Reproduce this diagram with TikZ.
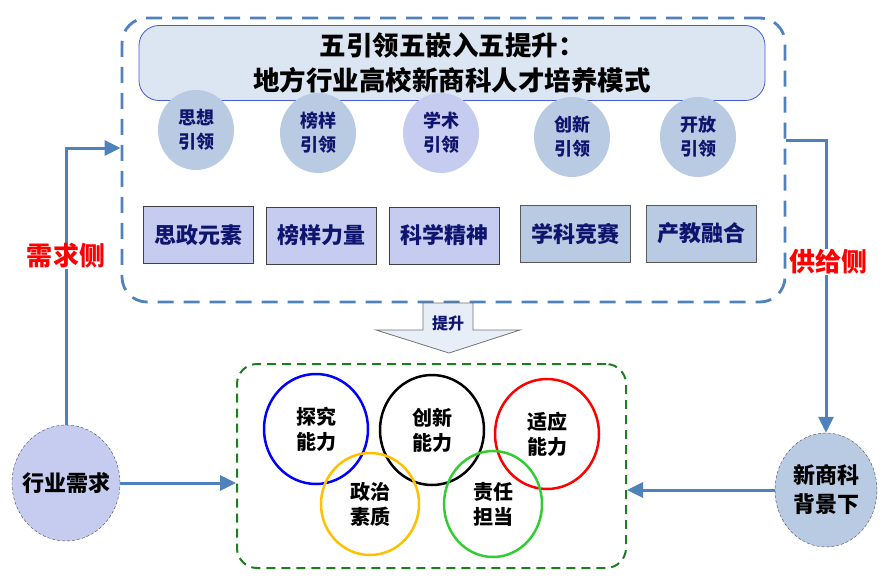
\documentclass[tikz,border=0pt]{standalone}
\usepackage{fontspec}
\setmainfont{Noto Sans CJK SC}
\usetikzlibrary{shapes.geometric,arrows.meta,positioning}
\definecolor{lineblue}{RGB}{79,129,189}
\definecolor{titlefill}{RGB}{220,230,242}
\definecolor{titleline}{RGB}{70,90,220}
\definecolor{greyblue}{RGB}{185,202,227}
\definecolor{lavender}{RGB}{197,204,240}
\definecolor{navy}{RGB}{15,20,110}
\definecolor{liftfill}{RGB}{232,238,247}
\definecolor{framegreen}{RGB}{30,125,30}
\definecolor{ringyellow}{RGB}{255,192,0}
\definecolor{ringgreen}{RGB}{50,205,50}
\begin{document}
\begin{tikzpicture}
  [x=1pt,y=-1pt,
  every node/.style={font=\bfseries},
  lead/.style={ellipse,inner sep=0pt,minimum width=76pt,minimum height=80pt,fill=greyblue,text=navy,align=center,font=\bfseries\fontsize{18}{24}\selectfont},
  elem/.style={minimum width=110pt,minimum height=57pt,draw=black!75,fill=lavender,text=navy,font=\bfseries\fontsize{22}{26}\selectfont},
  ring/.style={ellipse,inner sep=0pt,minimum width=104pt,minimum height=110pt,line width=2.5pt,align=center,font=\bfseries\fontsize{20}{25}\selectfont},
  side/.style={ellipse,minimum width=108pt,minimum height=116pt,draw=black!70,dash pattern=on 3pt off 2pt,align=center},
  sidetext/.style={align=center,font=\bfseries\fontsize{22}{29}\selectfont},
  flow/.style={draw=lineblue,line width=3pt,-{Triangle[length=16pt,width=15pt]}},
  tag/.style={text=red,fill=white,inner sep=1pt,font=\bfseries\fontsize{26}{30}\selectfont}]
  \useasboundingbox (0,0) rectangle (896,583);

  % upper frame with title
  \node[draw=lineblue,line width=2.8pt,dash pattern=on 16pt off 10pt,rounded corners=25pt,
    minimum width=663pt,minimum height=284pt] (frame) at (453.5,160) {};
  \node[rounded corners=20pt,minimum width=626pt,minimum height=75pt,fill=titlefill,
    draw=titleline,line width=0.8pt,align=center,font=\bfseries\fontsize{26.5}{35}\selectfont]
    (title) at (452,63) {五引领五嵌入五提升：\\地方行业高校新商科人才培养模式};

  \node[lead] (lead1) at (196,130) {思想\\引领};
  \node[lead] (lead2) at (318,133) {榜样\\引领};
  \node[lead,fill=lavender] (lead3) at (441,133) {学术\\引领};
  \node[lead] (lead4) at (572,137) {创新\\引领};
  \node[lead] (lead5) at (698,137) {开放\\引领};

  \node[elem] (elem1) at (198,235) {思政元素};
  \node[elem] (elem2) at (321.5,235.5) {榜样力量};
  \node[elem] (elem3) at (444,235.5) {科学精神};
  \node[elem,fill=greyblue,draw=black!65] (elem4) at (575,233.5) {学科竞赛};
  \node[elem,fill=greyblue,draw=black!65] (elem5) at (701,233.5) {产教融合};

  % lift arrow
  \draw[fill=liftfill,draw=black!55,line width=0.8pt] (423,303) -- (473,303) -- (473,330) -- (520,330)
    -- (449,353) -- (376,330) -- (423,330) -- cycle;
  \node[text=navy,font=\bfseries\fontsize{16}{18}\selectfont] (lift) at (448,323) {提升};

  % lower frame with rings
  \node[draw=framegreen,line width=2pt,dash pattern=on 9pt off 6pt,rounded corners=20pt,
    minimum width=389pt,minimum height=204pt] (core) at (431.5,466) {};
  \node[ring,draw=blue] (explore) at (316,429) {探究\\能力};
  \node[ring,draw=black] (innovate) at (432,430) {创新\\能力};
  \node[ring,draw=red] (adapt) at (547,434) {适应\\能力};
  \node[ring,draw=ringyellow,minimum width=98pt,minimum height=102pt] (politics) at (370,504) {政治\\素质};
  \node[ring,draw=ringgreen,minimum width=98pt,minimum height=106pt] (duty) at (493,504) {责任\\担当};

  % demand and supply
  \node[side,fill=lavender] (demand) at (66,483) {};
  \node[sidetext] (demandtext) at (demand) {行业需求};
  \node[side,fill=greyblue,minimum width=102pt,minimum height=114pt] (supply) at (826,490) {};
  \node[sidetext] (supplytext) at (supply) {新商科\\背景下};

  \draw[flow] (demand.north) |- ([yshift=12pt]frame.west);
  \draw[flow] ([yshift=20pt]frame.east) -| (supply.north);
  \draw[flow] (demand.east) -- (demand.east -| core.west);
  \draw[flow] (supply.west) -- (supply.west -| core.east);

  \node[tag] (need) at (66,256) {需求侧};
  \node[tag] (give) at (828,262) {供给侧};
\end{tikzpicture}
\end{document}
